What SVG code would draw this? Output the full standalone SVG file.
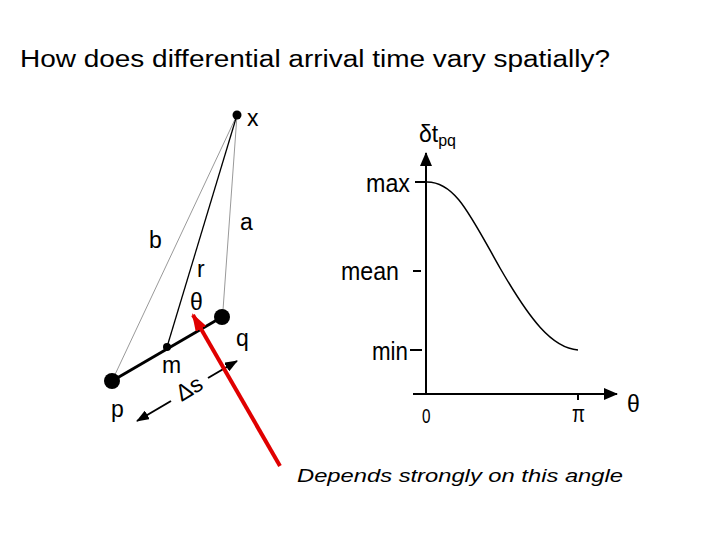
<svg xmlns="http://www.w3.org/2000/svg" width="720" height="540" viewBox="0 0 720 540">
<defs>
<style>
text{font-family:"Liberation Sans",Arial,sans-serif;fill:#000}
.lbl{font-size:23px}
.thin{stroke:#999;stroke-width:1;fill:none}
.blk{stroke:#000;fill:none}
</style>
<marker id="ahb" viewBox="0 0 14 12" refX="13" refY="6" markerWidth="14" markerHeight="12" orient="auto" markerUnits="userSpaceOnUse"><path d="M0,0L14,6L0,12z" fill="#000"/></marker>
<marker id="ahs" viewBox="0 0 13 10" refX="12" refY="5" markerWidth="13" markerHeight="10" orient="auto" markerUnits="userSpaceOnUse"><path d="M0,0L13,5L0,10z" fill="#000"/></marker>
<marker id="ahr" viewBox="0 0 18 12" refX="16" refY="6" markerWidth="18" markerHeight="12" orient="auto" markerUnits="userSpaceOnUse"><path d="M0,0L18,6L0,12z" fill="#e00000"/></marker>
</defs>
<rect width="720" height="540" fill="#fff"/>
<text x="20" y="67" font-size="23" textLength="590" lengthAdjust="spacingAndGlyphs">How does differential arrival time vary spatially?</text>

<g id="connectors">
<line class="thin" x1="237" y1="115" x2="112" y2="381"/>
<line class="thin" x1="237" y1="115" x2="223" y2="310"/>
<line class="blk" stroke-width="1.3" x1="237" y1="115" x2="167" y2="347"/>
<line class="blk" stroke-width="3" x1="112" y1="381" x2="222" y2="317"/>
<line class="blk" stroke-width="2" x1="208" y1="378" x2="237" y2="361" marker-end="url(#ahs)"/>
<line class="blk" stroke-width="2" x1="171" y1="401" x2="137" y2="421" marker-end="url(#ahs)"/>
</g>

<g id="node-x"><circle cx="237" cy="115" r="4.5" fill="#000"/><text class="lbl" x="247" y="126">x</text></g>
<g id="node-p"><circle cx="112" cy="381" r="8" fill="#000"/><text class="lbl" x="111" y="417">p</text></g>
<g id="node-q"><circle cx="222" cy="317" r="8" fill="#000"/><text class="lbl" x="236" y="346">q</text></g>
<g id="node-m"><circle cx="167" cy="347" r="4" fill="#000"/><text class="lbl" x="162" y="373">m</text></g>
<g id="labels-left">
<text class="lbl" x="149" y="248">b</text>
<text class="lbl" x="240" y="230">a</text>
<text class="lbl" x="197" y="277">r</text>
<text class="lbl" x="190" y="310">θ</text>
<text class="lbl" transform="translate(193,395) rotate(-31)" text-anchor="middle">Δs</text>
</g>

<g id="chart">
<line class="blk" stroke-width="2" x1="426" y1="394" x2="426" y2="153" marker-end="url(#ahb)"/>
<line class="blk" stroke-width="2" x1="413" y1="394" x2="617" y2="394" marker-end="url(#ahb)"/>
<line class="blk" stroke-width="2" x1="415" y1="182" x2="426" y2="182"/>
<line class="blk" stroke-width="2" x1="413" y1="271" x2="421" y2="271"/>
<line class="blk" stroke-width="2" x1="410" y1="350" x2="422" y2="350"/>
<line class="blk" stroke-width="2" x1="578" y1="394" x2="578" y2="400"/>
<path class="blk" stroke-width="1.5" d="M426,182 C455,181 470,215 500,268 C530,320 552,348 578,350"/>
<text x="419" y="142" font-size="23">δt<tspan font-size="16" dy="4">pq</tspan></text>
<text x="366" y="192" font-size="26" textLength="44" lengthAdjust="spacingAndGlyphs">max</text>
<text x="341" y="280" font-size="26" textLength="58" lengthAdjust="spacingAndGlyphs">mean</text>
<text x="372" y="360" font-size="26" textLength="36" lengthAdjust="spacingAndGlyphs">min</text>
<text x="422" y="423" font-size="21" textLength="8.5" lengthAdjust="spacingAndGlyphs">0</text>
<text x="572" y="422" font-size="23" textLength="13" lengthAdjust="spacingAndGlyphs">π</text>
<text x="627" y="412" font-size="23">θ</text>
</g>

<g id="annotation">
<line x1="280" y1="466" x2="193" y2="315" stroke="#e00000" stroke-width="4" marker-end="url(#ahr)"/>
<text x="297" y="482" font-size="19" font-style="italic" textLength="326" lengthAdjust="spacingAndGlyphs">Depends strongly on this angle</text>
</g>
</svg>
